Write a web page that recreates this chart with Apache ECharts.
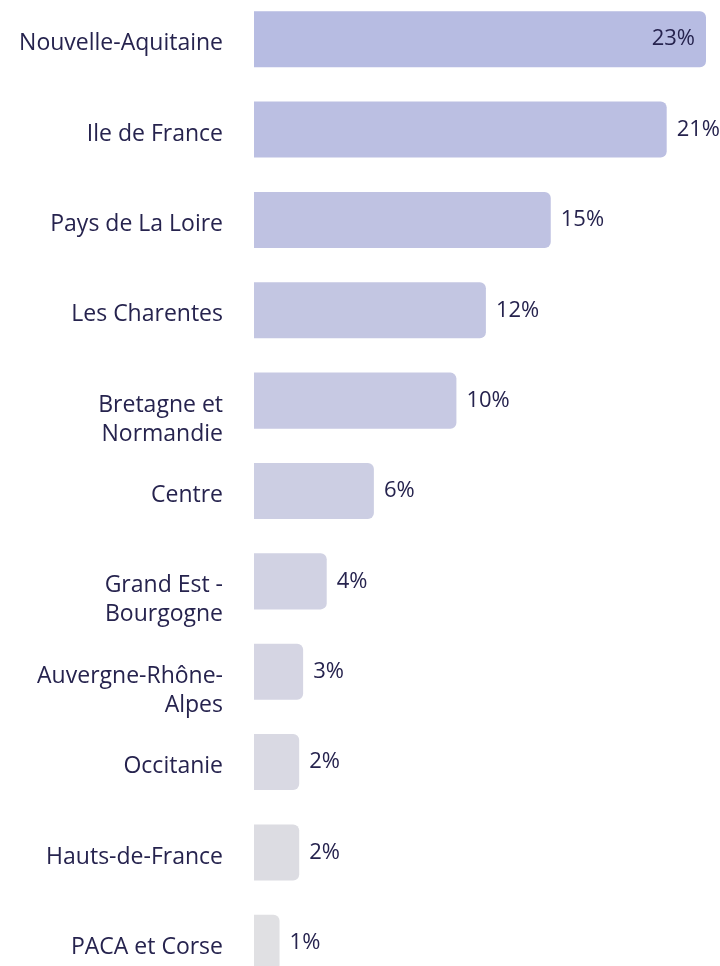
<!DOCTYPE html>
<html>
<head>
<meta charset="utf-8">
<script src="https://cdn.jsdelivr.net/npm/echarts@6/dist/echarts.min.js"></script>
<style>
  html, body { margin: 0; padding: 0; background: #fff; }
  #chart { width: 720px; height: 966px; }
</style>
</head>
<body>
<div id="chart"></div>
<script>
// regions, top to bottom
const regions = [
    'Nouvelle-Aquitaine',
    'Ile de France',
    'Pays de La Loire',
    'Les Charentes',
    'Bretagne et\nNormandie',
    'Centre',
    'Grand Est -\nBourgogne',
    'Auvergne-Rhône-\nAlpes',
    'Occitanie',
    'Hauts-de-France',
    'PACA et Corse'
];
// share in %
const shares = [23, 21, 15.1, 11.8, 10.3, 6.1, 3.7, 2.5, 2.3, 2.3, 1.3];
const barColors = ['#b7bce2', '#bbbfe2', '#bfc2e2', '#c3c6e2', '#c7c9e3', '#cccee3',
    '#d1d2e3', '#d5d5e3', '#d9d9e3', '#dcdce2', '#e0e0e3'];

const textColor = '#26234e';
const font = 'Open Sans';

const myChart = echarts.init(document.getElementById('chart'));

const maxShare = Math.max(...shares);
const barData = shares.map((v, i) => {
    const item = { value: v, itemStyle: { color: barColors[i] } };
    // the longest bar carries its label inside
    if (v === maxShare) item.label = { position: 'insideRight', distance: 11 };
    return item;
});

const option = {
    animation: false,
    grid: { left: 254, width: 452, top: -6, height: 994, outerBoundsMode: 'none' },
    xAxis: {
        type: 'value',
        min: 0,
        max: 23,
        show: false
    },
    yAxis: {
        type: 'category',
        inverse: true,
        data: regions,
        axisLine: { show: false },
        axisTick: { show: false },
        axisLabel: {
            color: textColor,
            fontFamily: font,
            fontSize: 23,
            lineHeight: 29,
            margin: 31,
            align: 'right',
            verticalAlign: 'top',
            padding: [-10, 0, 0, 0]
        }
    },
    series: [
        {
            type: 'bar',
            data: barData,
            barCategoryGap: '38%',
            itemStyle: { borderRadius: [0, 6, 6, 0] },
            label: {
                show: true,
                position: 'right',
                distance: 10,
                color: textColor,
                fontFamily: font,
                fontSize: 22,
                formatter: p => Math.round(p.value) + '%'
            }
        }
    ]
};
option && myChart.setOption(option);
</script>
</body>
</html>
